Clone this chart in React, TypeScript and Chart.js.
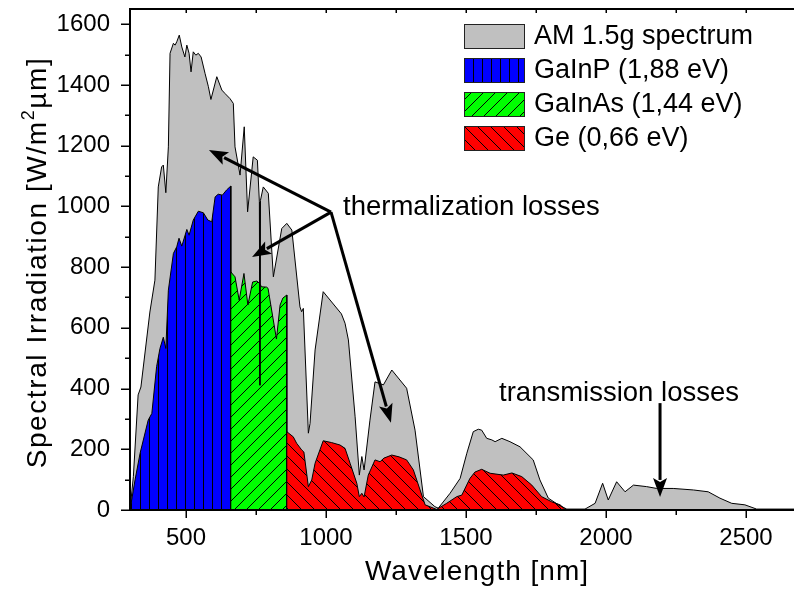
import React, { useEffect, useRef } from 'react';
import { Chart, registerables } from 'chart.js';

Chart.register(...registerables);

// ---------- data ----------
const amWavelength = [300, 312, 329, 339, 371, 389, 401, 413, 419, 428, 437, 443, 455, 461, 467, 476, 485, 496, 503, 511, 518, 526, 535, 544, 554, 568, 580, 589, 610, 628, 639, 657, 669, 675, 693, 708, 720, 740, 755, 762, 764, 766, 776, 794, 812, 842, 860, 878, 907, 913, 919, 937, 943, 961, 990, 1055, 1068, 1080, 1104, 1119, 1128, 1136, 1157, 1175, 1205, 1235, 1288, 1318, 1348, 1389, 1401, 1443, 1479, 1503, 1526, 1544, 1556, 1574, 1592, 1604, 1628, 1657, 1693, 1740, 1764, 1794, 1830, 1860, 1925, 1961, 1988, 2008, 2038, 2068, 2098, 2145, 2181, 2240, 2312, 2365, 2407, 2449, 2496, 2538, 2800];
const amIrradiance = [0, 110, 379, 405, 652, 757, 1064, 1130, 1136, 1045, 1196, 1504, 1537, 1531, 1542, 1564, 1525, 1492, 1531, 1504, 1443, 1509, 1498, 1504, 1492, 1438, 1394, 1352, 1427, 1383, 1372, 1355, 1339, 1196, 1103, 1262, 982, 1163, 1152, 1015, 411, 1020, 1064, 1043, 768, 927, 944, 922, 669, 653, 664, 253, 285, 527, 719, 646, 615, 560, 307, 115, 176, 132, 296, 422, 412, 461, 401, 263, 44, 11, 6, 55, 104, 187, 258, 266, 263, 236, 231, 225, 236, 225, 208, 165, 99, 39, 17, 3, 3, 22, 88, 33, 93, 60, 82, 77, 71, 71, 66, 60, 39, 22, 17, 3, 3];

const gainpWavelength = [300, 318, 336, 365, 378, 395, 407, 419, 428, 437, 455, 467, 475, 485, 503, 511, 526, 544, 562, 578, 592, 604, 615, 630, 645, 660, 660];
const gainpIrradiance = [0, 99, 187, 296, 318, 472, 532, 569, 532, 724, 845, 867, 895, 869, 924, 905, 955, 984, 979, 955, 949, 1031, 1040, 1037, 1054, 1067, 0];

const gainasWavelength = [660, 660, 675, 690, 707, 721, 738, 753, 762, 770, 788, 793, 823, 836, 846, 860, 860];
const gainasIrradiance = [0, 784, 768, 691, 779, 675, 751, 754, 747, 735, 734, 730, 563, 675, 698, 708, 0];

const geWavelength = [860, 860, 883, 895, 913, 921, 937, 949, 961, 990, 1020, 1050, 1068, 1086, 1110, 1119, 1128, 1136, 1151, 1175, 1193, 1207, 1235, 1261, 1288, 1312, 1336, 1354, 1395, 1431, 1467, 1485, 1514, 1532, 1556, 1586, 1633, 1664, 1699, 1735, 1770, 1806, 1836, 1854, 1879];
const geIrradiance = [0, 258, 241, 220, 198, 191, 77, 99, 154, 228, 222, 214, 203, 154, 88, 44, 55, 43, 115, 165, 159, 171, 181, 175, 165, 132, 66, 17, 2, 22, 44, 49, 104, 125, 134, 121, 115, 122, 110, 82, 44, 27, 17, 2, 0];

const xMajorTicks = [500, 1000, 1500, 2000, 2500];
const xMinorTicks = [750, 1250, 1750, 2250, 2750];
const yMajorTicks = [0, 200, 400, 600, 800, 1000, 1200, 1400, 1600];
const yMinorTicks = [100, 300, 500, 700, 900, 1100, 1300, 1500];

const seriesLabels = ['AM 1.5g spectrum', 'GaInP (1,88 eV)', 'GaInAs (1,44 eV)', 'Ge (0,66 eV)'];
const xTitle = 'Wavelength [nm]';
const yTitleMain = 'Spectral Irradiation [W/m';
const yTitleSup = '2';
const yTitleEnd = 'µm]';

const thermalText = 'thermalization losses';
const thermalTextPos = [1061, 971];
const thermalOrigin = [1018, 981];
const thermalTips = [[582, 1186], [736, 833], [1232, 287]];
const transText = 'transmission losses';
const transTextPos = [1618, 359];
const transOrigin = [2193, 352];
const transTip = [2193, 43];

const FONT = "'Liberation Sans', Arial, Helvetica, sans-serif";

function toXY(xs: number[], ys: number[]) {
  return xs.map((x, i) => ({ x, y: ys[i] }));
}

function makePattern(ctx: CanvasRenderingContext2D, bg: string, kind: string, size: number) {
  const c = document.createElement('canvas');
  c.width = size;
  c.height = size;
  const g = c.getContext('2d')!;
  g.fillStyle = bg;
  g.fillRect(0, 0, size, size);
  g.strokeStyle = '#000';
  g.fillStyle = '#000';
  g.lineWidth = 1;
  if (kind === 'vertical') {
    g.fillRect(5, 0, 1, size);
  } else if (kind === 'slash') {
    g.beginPath();
    g.moveTo(0, size);
    g.lineTo(size, 0);
    g.moveTo(-2, 2);
    g.lineTo(2, -2);
    g.moveTo(size - 2, size + 2);
    g.lineTo(size + 2, size - 2);
    g.stroke();
  } else {
    g.beginPath();
    g.moveTo(0, 0);
    g.lineTo(size, size);
    g.moveTo(size - 2, -2);
    g.lineTo(size + 2, 2);
    g.moveTo(-2, size - 2);
    g.lineTo(2, size + 2);
    g.stroke();
  }
  return ctx.createPattern(c, 'repeat')!;
}

function drawArrow(ctx: CanvasRenderingContext2D, x0: number, y0: number, x1: number, y1: number) {
  const ang = Math.atan2(y1 - y0, x1 - x0);
  const headLen = 19;
  const headHalf = 7;
  const bx = x1 - headLen * Math.cos(ang);
  const by = y1 - headLen * Math.sin(ang);
  ctx.beginPath();
  ctx.moveTo(x0, y0);
  ctx.lineTo(bx + 2 * Math.cos(ang), by + 2 * Math.sin(ang));
  ctx.stroke();
  ctx.beginPath();
  ctx.moveTo(x1, y1);
  ctx.lineTo(bx + headHalf * Math.sin(ang), by - headHalf * Math.cos(ang));
  ctx.lineTo(bx + 4 * Math.cos(ang), by + 4 * Math.sin(ang));
  ctx.lineTo(bx - headHalf * Math.sin(ang), by + headHalf * Math.cos(ang));
  ctx.closePath();
  ctx.fill();
}

export default function App() {
  const ref = useRef<HTMLCanvasElement>(null);

  useEffect(() => {
    const canvas = ref.current!;
    const ctx = canvas.getContext('2d')!;
    const patBlue = makePattern(ctx, '#0000ff', 'vertical', 9);
    const patGreen = makePattern(ctx, '#00ff00', 'slash', 12);
    const patRed = makePattern(ctx, '#ff0000', 'backslash', 13);
    const legendFills: (string | CanvasPattern)[] = ['#c0c0c0', patBlue, patGreen, patRed];

    const overlay = {
      id: 'overlay',
      afterDraw(chart: any) {
        const c: any = chart.ctx;
        const a = chart.chartArea;
        const xs = chart.scales.x;
        const ys = chart.scales.y;
        const px = (v: number) => xs.getPixelForValue(v);
        const py = (v: number) => ys.getPixelForValue(v);
        c.save();
        // frame
        c.strokeStyle = '#000';
        c.lineWidth = 2;
        c.strokeRect(a.left, a.top, a.right - a.left, a.bottom - a.top);
        // ticks
        c.lineWidth = 1.5;
        c.beginPath();
        for (const v of xMajorTicks) {
          const X = Math.round(px(v)) + 0.25;
          c.moveTo(X, a.bottom); c.lineTo(X, a.bottom + 8);
          c.moveTo(X, a.top); c.lineTo(X, a.top + 4);
        }
        for (const v of xMinorTicks) {
          const X = Math.round(px(v)) + 0.25;
          c.moveTo(X, a.bottom); c.lineTo(X, a.bottom + 5);
          c.moveTo(X, a.top); c.lineTo(X, a.top + 4);
        }
        for (const v of yMajorTicks) {
          const Y = Math.round(py(v)) + 0.25;
          c.moveTo(a.left, Y); c.lineTo(a.left - 9, Y);
          c.moveTo(a.right, Y); c.lineTo(a.right + 9, Y);
        }
        for (const v of yMinorTicks) {
          const Y = Math.round(py(v)) + 0.25;
          c.moveTo(a.left, Y); c.lineTo(a.left - 5, Y);
          c.moveTo(a.right, Y); c.lineTo(a.right + 5, Y);
        }
        c.stroke();

        // axis titles
        c.fillStyle = '#000';
        c.font = `28px ${FONT}`;
        c.letterSpacing = '1px';
        c.textAlign = 'center';
        c.textBaseline = 'alphabetic';
        c.fillText(xTitle, (a.left + a.right) / 2 - 3, 580);

        c.save();
        c.translate(46, (a.top + a.bottom) / 2 + 3);
        c.rotate(-Math.PI / 2);
        c.textAlign = 'left';
        c.letterSpacing = '1.6px';
        c.font = `28px ${FONT}`;
        const w1 = c.measureText(yTitleMain).width;
        const w3 = c.measureText(yTitleEnd).width;
        c.font = `18px ${FONT}`;
        const w2 = c.measureText(yTitleSup).width;
        const total = w1 + w2 + w3;
        let cx = -total / 2;
        c.font = `28px ${FONT}`;
        c.fillText(yTitleMain, cx, 0);
        cx += w1;
        c.font = `18px ${FONT}`;
        c.fillText(yTitleSup, cx, -12);
        cx += w2;
        c.font = `28px ${FONT}`;
        c.fillText(yTitleEnd, cx, 0);
        c.restore();
        c.letterSpacing = '0px';

        // legend
        const lx = a.left + 334;
        const ly = a.top + 15;
        c.font = `27px ${FONT}`;
        c.textAlign = 'left';
        c.textBaseline = 'middle';
        seriesLabels.forEach((lab, i) => {
          const top = ly + i * 34;
          c.fillStyle = legendFills[i];
          c.fillRect(lx, top, 60, 24);
          c.strokeStyle = '#222';
          c.lineWidth = 1;
          c.strokeRect(lx + 0.5, top + 0.5, 60, 24);
          c.fillStyle = '#000';
          c.fillText(lab, lx + 70, top + 13);
        });

        // annotations
        c.textBaseline = 'alphabetic';
        c.font = `27.5px ${FONT}`;
        c.fillStyle = '#000';
        c.fillText(thermalText, px(thermalTextPos[0]), py(thermalTextPos[1]));
        c.fillText(transText, px(transTextPos[0]), py(transTextPos[1]));
        c.strokeStyle = '#000';
        c.lineWidth = 3;
        c.lineCap = 'butt';
        for (const t of thermalTips) {
          drawArrow(c, px(thermalOrigin[0]), py(thermalOrigin[1]), px(t[0]), py(t[1]));
        }
        drawArrow(c, px(transOrigin[0]), py(transOrigin[1]), px(transTip[0]), py(transTip[1]));
        c.restore();
      },
    };

    const chart = new Chart(canvas, {
      type: 'line',
      data: {
        datasets: [
          {
            label: seriesLabels[0],
            data: toXY(amWavelength, amIrradiance),
            backgroundColor: '#c0c0c0',
            borderWidth: 0,
            fill: 'origin',
            pointRadius: 0,
            order: 5,
          },
          {
            label: seriesLabels[1],
            data: toXY(gainpWavelength, gainpIrradiance),
            backgroundColor: patBlue,
            borderColor: '#000',
            borderWidth: 1,
            fill: 'origin',
            pointRadius: 0,
            order: 4,
          },
          {
            label: seriesLabels[2],
            data: toXY(gainasWavelength, gainasIrradiance),
            backgroundColor: patGreen,
            borderColor: '#000',
            borderWidth: 1,
            fill: 'origin',
            pointRadius: 0,
            order: 3,
          },
          {
            label: seriesLabels[3],
            data: toXY(geWavelength, geIrradiance),
            backgroundColor: patRed,
            borderColor: '#000',
            borderWidth: 1,
            fill: 'origin',
            pointRadius: 0,
            order: 2,
          },
          {
            label: seriesLabels[0] + ' outline',
            data: toXY(amWavelength, amIrradiance),
            borderColor: '#000',
            borderWidth: 1,
            fill: false,
            pointRadius: 0,
            order: 1,
          },
        ],
      },
      options: {
        responsive: false,
        animation: false,
        devicePixelRatio: 1,
        events: [],
        layout: { padding: { top: 9, right: 10, left: 0, bottom: 0 } },
        elements: { line: { tension: 0 } },
        plugins: { legend: { display: false }, tooltip: { enabled: false }, title: { display: false } },
        scales: {
          x: {
            type: 'linear',
            min: 300,
            max: 2800,
            grid: { display: false, drawTicks: false },
            border: { display: false },
            afterBuildTicks: (s: any) => { s.ticks = xMajorTicks.map((v) => ({ value: v })); },
            afterFit: (s: any) => { s.height = 80; s.paddingLeft = 0; s.paddingRight = 0; },
            ticks: {
              autoSkip: false,
              maxRotation: 0,
              minRotation: 0,
              padding: 14,
              color: '#000',
              font: { family: FONT, size: 24 },
              callback: (v: any) => String(v),
            },
          },
          y: {
            type: 'linear',
            min: 0,
            max: 1650,
            grid: { display: false, drawTicks: false },
            border: { display: false },
            afterBuildTicks: (s: any) => { s.ticks = yMajorTicks.map((v) => ({ value: v })); },
            afterFit: (s: any) => { s.width = 130; s.paddingTop = 0; s.paddingBottom = 0; },
            ticks: {
              autoSkip: false,
              padding: 20,
              color: '#000',
              font: { family: FONT, size: 24 },
              callback: (v: any) => String(v),
            },
          },
        },
      },
      plugins: [overlay],
    } as any);

    return () => chart.destroy();
  }, []);

  return (
    <div style={{ position: 'fixed', left: 0, top: 0, width: 794, height: 590, overflow: 'hidden', background: '#fff' }}>
      <canvas ref={ref} width={840} height={590} style={{ display: 'block', width: 840, height: 590 }} />
    </div>
  );
}
